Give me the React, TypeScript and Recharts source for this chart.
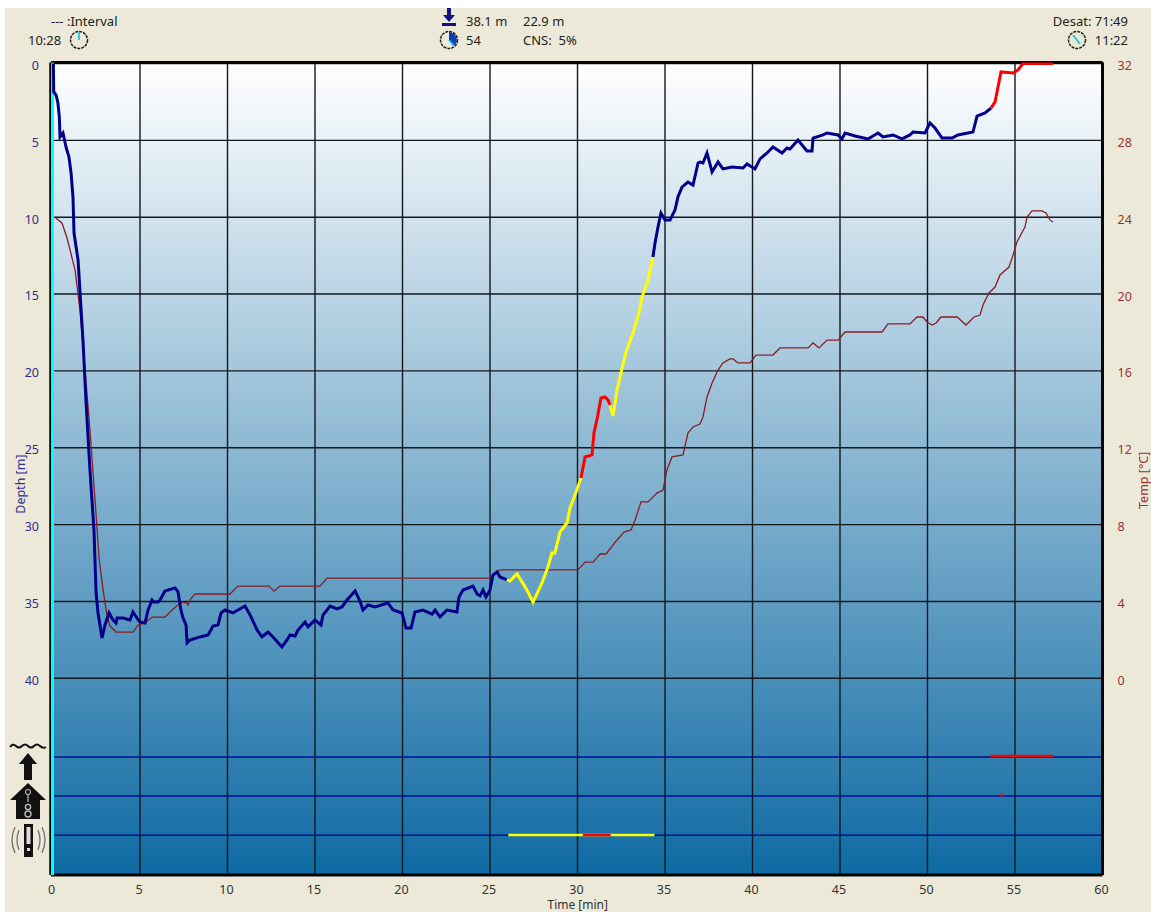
import {
  ComposedChart,
  CartesianGrid,
  Line,
  ReferenceLine,
  XAxis,
  YAxis,
} from 'recharts';

// [minutes, metres]
const bottomProfile = [
  [0.05, 0], [0.07, 1.85], [0.2, 2.05], [0.31, 2.57], [0.39, 3.48], [0.43, 4.78], [0.6, 4.52], [0.77, 5.43],
  [0.94, 6.08], [1.06, 7.12], [1.17, 8.69], [1.23, 11.03], [1.46, 12.78], [1.74, 17.99], [1.91, 21.89],
  [2.14, 26.45], [2.37, 30.35], [2.49, 34.45], [2.6, 35.75], [2.83, 37.38], [3.0, 36.53], [3.23, 35.75],
  [3.46, 36.21], [3.63, 36.4], [3.69, 36.08], [4.03, 36.08], [4.43, 36.21], [4.6, 35.69], [4.83, 36.08],
  [5.0, 36.34], [5.29, 36.4], [5.46, 35.56], [5.69, 34.91], [5.8, 35.04], [6.03, 35.04], [6.14, 34.91],
  [6.43, 34.32], [7.0, 34.12], [7.17, 34.38], [7.34, 35.56], [7.46, 36.08], [7.63, 36.53], [7.69, 37.7],
  [7.86, 37.51], [8.43, 37.31], [8.89, 37.18], [9.17, 36.6], [9.46, 36.53], [9.63, 35.75], [9.86, 35.56],
  [10.31, 35.75], [11.0, 35.3], [11.29, 35.88], [11.69, 36.86], [11.97, 37.31], [12.31, 36.99], [12.6, 37.31],
  [13.11, 37.96], [13.4, 37.51], [13.57, 37.18], [13.86, 37.25], [14.03, 36.86], [14.43, 36.34], [14.6, 36.66],
  [15.0, 36.21], [15.34, 36.53], [15.46, 35.88], [15.74, 35.49], [15.86, 35.3], [16.26, 35.49], [16.54, 35.36],
  [16.83, 34.91], [17.29, 34.32], [17.57, 34.97], [17.74, 35.56], [18.03, 35.23], [18.43, 35.36], [19.17, 35.1],
  [19.46, 35.56], [19.97, 35.75], [20.2, 36.73], [20.49, 36.73], [20.71, 35.69], [21.17, 35.56], [21.69, 35.82],
  [21.86, 35.56], [22.14, 36.01], [22.54, 35.56], [23.11, 35.69], [23.23, 34.71], [23.46, 34.26], [24.03, 34.0],
  [24.26, 34.51], [24.43, 34.64], [24.6, 34.26], [24.77, 34.71], [25.0, 34.26], [25.17, 33.28], [25.4, 33.08],
  [25.57, 33.41], [25.97, 33.6],
];
const ascentYellowA = [
  [25.97, 33.6], [26.14, 33.67], [26.54, 33.21], [26.83, 33.73], [27.11, 34.26], [27.46, 35.04], [27.97, 33.8],
  [28.31, 32.76], [28.54, 31.85], [28.71, 31.85], [29.0, 30.48], [29.4, 29.9], [29.57, 28.92], [29.86, 28.07],
  [30.2, 26.97],
];
const ascentRedA = [
  [30.2, 26.97], [30.43, 25.6], [30.83, 25.47], [30.94, 24.04], [31.11, 23.19], [31.34, 21.76], [31.57, 21.7],
  [31.74, 21.89], [31.86, 22.22],
];
const ascentYellowB = [
  [31.86, 22.22], [32.03, 22.93], [32.26, 21.24], [32.43, 20.4], [32.77, 18.77], [33.17, 17.53], [33.51, 16.23],
  [33.69, 15.19], [34.03, 14.09], [34.31, 12.59],
];
const shallowProfile = [
  [34.31, 12.59], [34.43, 11.68], [34.6, 10.64], [34.77, 9.73], [35.0, 10.18], [35.29, 10.18], [35.57, 9.53],
  [35.74, 8.69], [35.97, 8.04], [36.31, 7.71], [36.6, 7.91], [36.89, 6.47], [37.0, 6.41], [37.17, 6.47],
  [37.4, 5.82], [37.69, 7.06], [38.03, 6.41], [38.31, 6.86], [38.83, 6.73], [39.46, 6.8], [39.69, 6.54],
  [40.14, 6.86], [40.43, 6.21], [40.83, 5.82], [41.17, 5.43], [41.69, 5.82], [41.97, 5.5], [42.14, 5.56],
  [42.6, 4.98], [43.11, 5.69], [43.4, 5.69], [43.46, 4.85], [44.03, 4.65], [44.26, 4.52], [44.89, 4.65],
  [45.11, 4.91], [45.29, 4.52], [45.86, 4.72], [46.6, 4.91], [47.17, 4.52], [47.46, 4.78], [48.03, 4.65],
  [48.54, 4.91], [49.0, 4.65], [49.17, 4.46], [49.86, 4.52], [50.14, 3.87], [50.43, 4.2], [50.83, 4.85],
  [51.4, 4.85], [51.74, 4.65], [52.6, 4.46], [52.83, 3.42], [53.29, 3.22], [53.63, 2.9],
];
const ascentRedB = [
  [53.63, 2.9], [53.86, 2.5], [54.2, 0.55], [54.89, 0.62], [55.17, 0.42], [55.46, 0.0], [57.17, 0.0],
];

// [minutes, degrees C]
const temperature = [
  [0.14, 24], [0.54, 23.7], [0.83, 22.92], [1.29, 21.25], [1.57, 19.17], [1.86, 16.05], [2.14, 12.93], [2.43, 9.29],
  [2.67, 6.17], [2.89, 4.61], [3.11, 3.31], [3.29, 2.73], [3.63, 2.42], [4.6, 2.42], [4.89, 2.78], [5.29, 2.89],
  [5.69, 3.2], [6.43, 3.2], [6.83, 3.57], [7.17, 3.83], [7.4, 3.98], [7.69, 3.93], [7.74, 3.83], [7.86, 4.09],
  [8.14, 4.4], [10.14, 4.4], [10.6, 4.81], [12.37, 4.81], [12.66, 4.55], [13.0, 4.81], [15.29, 4.81], [15.69, 5.23],
  [25.0, 5.23], [25.57, 5.65], [30.03, 5.65], [30.43, 6.06], [30.89, 6.06], [31.29, 6.48], [31.63, 6.48], [32.26, 7.21],
  [32.66, 7.62], [33.06, 7.73], [33.29, 8.25], [33.63, 9.19], [34.03, 9.19], [34.54, 9.65], [34.89, 9.81], [35.11, 10.85],
  [35.4, 11.53], [36.03, 11.63], [36.31, 12.77], [36.6, 13.09], [37.0, 13.24], [37.17, 13.61], [37.4, 14.65], [37.69, 15.38],
  [38.03, 16.05], [38.31, 16.42], [38.71, 16.63], [38.89, 16.63], [39.17, 16.42], [39.86, 16.42], [40.2, 16.83], [41.17, 16.83],
  [41.57, 17.2], [43.17, 17.2], [43.46, 17.46], [43.8, 17.2], [44.26, 17.61], [44.89, 17.61], [45.29, 18.03], [47.4, 18.03],
  [47.74, 18.45], [49.0, 18.45], [49.4, 18.81], [49.74, 18.81], [49.97, 18.55], [50.26, 18.39], [50.49, 18.5], [50.77, 18.81],
  [51.69, 18.81], [52.2, 18.39], [52.66, 18.81], [53.0, 18.91], [53.17, 19.43], [53.51, 20.06], [53.86, 20.37], [54.14, 21.0],
  [54.66, 21.41], [54.89, 22.04], [55.11, 22.71], [55.57, 23.49], [55.69, 24.01], [55.97, 24.33], [56.54, 24.33], [56.77, 24.22],
  [57.0, 23.86], [57.17, 23.75],
];

// alarm rows under the profile, on the depth scale
const alarmRowDepths = [45.12, 47.66, 50.22];
const ascentAlarmRed = [[53.6, 45.05], [57.2, 45.05]];
const workloadAlarmRed = [[54.15, 47.6], [54.3, 47.6]];
const speedAlarmYellow = [[26.05, 50.2], [30.3, 50.2], [31.9, 50.2], [34.4, 50.2]];
const speedAlarmRed = [[30.3, 50.2], [31.9, 50.2]];

const timeTicks = [0, 5, 10, 15, 20, 25, 30, 35, 40, 45, 50, 55, 60];
const depthTicks = [0, 5, 10, 15, 20, 25, 30, 35, 40];
const tempTicks = [0, 4, 8, 12, 16, 20, 24, 28, 32];

const timeDomain = [-0.086, 60];
const depthDomain = [-0.065, 52.8];
const tempDomain = [-10.22, 32.05];

const NAVY = '#00008b';
const YELLOW = '#ffff00';
const RED = '#ff0000';
const MAROON = '#8a1c24';
const FONT = '"Noto Sans", sans-serif';

const toDepth = (pts: number[][]) => pts.map(([time, depth]) => ({ time, depth }));
const toTemp = (pts: number[][]) => pts.map(([time, temp]) => ({ time, temp }));

function Label({ x, y, right, color, children }: any) {
  const style: any = {
    position: 'absolute',
    top: y,
    font: `13px ${FONT}`,
    lineHeight: '14px',
    color: color ?? '#222',
    whiteSpace: 'pre',
  };
  if (right !== undefined) style.right = 1151 - right;
  else style.left = x;
  return <div style={style}>{children}</div>;
}

function Clock({ x, y, hand, wedge }: any) {
  return (
    <svg style={{ position: 'absolute', left: x - 10, top: y - 10 }} width={20} height={20}>
      {wedge && <path d={wedge} fill="#0a3fc0" />}
      <circle cx={10} cy={10} r={8.5} fill="none" stroke="#222" strokeWidth={1.5} strokeDasharray="3 1" />
      <path d={hand} stroke="#12c8e8" strokeWidth={1.8} />
    </svg>
  );
}

function SideIcons() {
  return (
    <svg style={{ position: 'absolute', left: 8, top: 740 }} width={42} height={125}>
      <path d="M2 7 q3 -4 6 -1 q3 3 6 0 q3 -3 6 0 q3 3 6 0 q3 -3 6 0 q3 3 6 1" fill="none" stroke="#111" strokeWidth={2} />
      <path d="M20 13 L29 24 L24 24 L24 40 L16 40 L16 24 L11 24 Z" fill="#111" />
      <path d="M20 43 L38 60 L32 60 L32 79 L8 79 L8 60 L2 60 Z" fill="#111" />
      <circle cx={20} cy={52} r={2.5} fill="none" stroke="#aaa" strokeWidth={1.2} />
      <path d="M20 55 L20 62" stroke="#aaa" strokeWidth={1.4} />
      <circle cx={20} cy={67} r={2.6} fill="none" stroke="#bbb" strokeWidth={1.4} />
      <circle cx={20} cy={74} r={3} fill="none" stroke="#bbb" strokeWidth={1.4} />
      <rect x={16} y={84} width={9} height={33} fill="#111" />
      <rect x={18.5} y={87} width={4} height={17} fill="#ddd" />
      <rect x={19} y={108} width={3} height={3} fill="#ddd" />
      <path d="M11 90 q-4 10 0 20 M7 87 q-6 13 0 26 M30 90 q4 10 0 20 M34 87 q6 13 0 26" fill="none" stroke="#777" strokeWidth={1.4} />
    </svg>
  );
}

export default function App() {
  return (
    <div style={{ position: 'absolute', left: 0, top: 0, width: 1151, height: 912, background: '#fff', overflow: 'hidden' }}>
      <div style={{ position: 'absolute', left: 5, top: 8, right: 0, bottom: 0, background: '#ece9d8' }} />

      <ComposedChart
        width={1151}
        height={912}
        margin={{ left: 11, top: 62.5, right: 8.5, bottom: 7 }}
        style={{ position: 'absolute', left: 0, top: 0 }}
      >
        <defs>
          <linearGradient id="water" x1="0" y1="0" x2="0" y2="1">
            <stop offset="0%" stopColor="#ffffff" />
            <stop offset="100%" stopColor="#0e6aa3" />
          </linearGradient>
        </defs>
        <CartesianGrid yAxisId="depth" fill="url(#water)" fillOpacity={1} stroke="#14181c" strokeWidth={1.4} />
        <XAxis
          dataKey="time"
          type="number"
          domain={timeDomain}
          ticks={timeTicks}
          allowDataOverflow
          height={30}
          axisLine={false}
          tickLine={false}
          tickMargin={4}
          interval={0}
          tick={{ fill: '#333', fontSize: 12.5, fontFamily: FONT, dx: -1 }}
          label={{ value: 'Time [min]', position: 'insideBottom', offset: -4, dx: 1, fill: '#333', fontSize: 12, fontFamily: FONT }}
        />
        <YAxis
          yAxisId="depth"
          dataKey="depth"
          type="number"
          reversed
          domain={depthDomain}
          ticks={depthTicks}
          allowDataOverflow
          width={40}
          axisLine={false}
          tickLine={false}
          tickMargin={6}
          interval={0}
          tick={{ fill: '#2e2e90', fontSize: 12.5, fontFamily: FONT, dy: 2 }}
          label={{ value: 'Depth [m]', angle: -90, position: 'insideLeft', offset: 0, dx: 10, dy: 45, fill: '#2e2e90', fontSize: 12.5, fontFamily: FONT }}
        />
        <YAxis
          yAxisId="temp"
          dataKey="temp"
          type="number"
          orientation="right"
          domain={tempDomain}
          ticks={tempTicks}
          allowDataOverflow
          width={40}
          axisLine={false}
          tickLine={false}
          tickMargin={9}
          interval={0}
          tick={{ fill: '#993333', fontSize: 12.5, fontFamily: FONT, dy: 2 }}
          label={{ value: 'Temp [°C]', angle: -90, position: 'insideRight', offset: 0, dx: 1, dy: -17, fill: '#993333', fontSize: 12.5, fontFamily: FONT }}
        />

        {alarmRowDepths.map((d) => (
          <ReferenceLine key={d} yAxisId="depth" y={d} stroke="#00108c" strokeWidth={1.5} />
        ))}

        <ReferenceLine yAxisId="depth" x={timeDomain[0]} stroke="#050505" strokeWidth={3.5} />
        <ReferenceLine yAxisId="depth" x={60} stroke="#050505" strokeWidth={3} />
        <ReferenceLine yAxisId="depth" y={depthDomain[0]} stroke="#050505" strokeWidth={3} />
        <ReferenceLine yAxisId="depth" y={depthDomain[1]} stroke="#050505" strokeWidth={3} />
        <ReferenceLine yAxisId="depth" x={0} stroke="#00ffff" strokeWidth={3} />

        <Line yAxisId="temp" data={toTemp(temperature)} dataKey="temp" stroke={MAROON} strokeWidth={1.3} dot={false} type="linear" isAnimationActive={false} />

        <Line yAxisId="depth" data={toDepth(bottomProfile)} dataKey="depth" stroke={NAVY} strokeWidth={3} dot={false} type="linear" isAnimationActive={false} />
        <Line yAxisId="depth" data={toDepth(ascentYellowA)} dataKey="depth" stroke={YELLOW} strokeWidth={3} dot={false} type="linear" isAnimationActive={false} />
        <Line yAxisId="depth" data={toDepth(ascentRedA)} dataKey="depth" stroke={RED} strokeWidth={3} dot={false} type="linear" isAnimationActive={false} />
        <Line yAxisId="depth" data={toDepth(ascentYellowB)} dataKey="depth" stroke={YELLOW} strokeWidth={3} dot={false} type="linear" isAnimationActive={false} />
        <Line yAxisId="depth" data={toDepth(shallowProfile)} dataKey="depth" stroke={NAVY} strokeWidth={3} dot={false} type="linear" isAnimationActive={false} />
        <Line yAxisId="depth" data={toDepth(ascentRedB)} dataKey="depth" stroke={RED} strokeWidth={3} dot={false} type="linear" isAnimationActive={false} />

        <Line yAxisId="depth" data={toDepth(ascentAlarmRed)} dataKey="depth" stroke={RED} strokeWidth={2.4} dot={false} isAnimationActive={false} />
        <Line yAxisId="depth" data={toDepth(workloadAlarmRed)} dataKey="depth" stroke={RED} strokeWidth={2.4} dot={false} isAnimationActive={false} />
        <Line yAxisId="depth" data={toDepth(speedAlarmYellow)} dataKey="depth" stroke={YELLOW} strokeWidth={2.4} dot={false} isAnimationActive={false} />
        <Line yAxisId="depth" data={toDepth(speedAlarmRed)} dataKey="depth" stroke={RED} strokeWidth={2.4} dot={false} isAnimationActive={false} />
      </ComposedChart>

      <Label x={51} y={14}>{'--- :Interval'}</Label>
      <Label x={28} y={33}>10:28</Label>
      <Clock x={79} y={40} hand="M10 2 L10 10" />

      <svg style={{ position: 'absolute', left: 441, top: 8 }} width={16} height={20}>
        <path d="M6 0 L10 0 L10 7 L14 7 L8 14 L2 7 L6 7 Z" fill="#11118c" />
        <rect x={1} y={15} width={14} height={3} fill="#11118c" />
      </svg>
      <Label x={466} y={14}>38.1 m</Label>
      <Label x={523} y={14}>22.9 m</Label>
      <Clock x={449} y={40} hand="M10 10 L15 16" wedge="M10 10 L10 2 A8 8 0 0 1 15 16 Z" />
      <Label x={466} y={33}>54</Label>
      <Label x={523} y={33}>{'CNS:  5%'}</Label>

      <Label right={1128} y={14}>Desat: 71:49</Label>
      <Label right={1128} y={33}>11:22</Label>
      <Clock x={1077} y={40} hand="M6 5 L13 14" />

      <SideIcons />
    </div>
  );
}
